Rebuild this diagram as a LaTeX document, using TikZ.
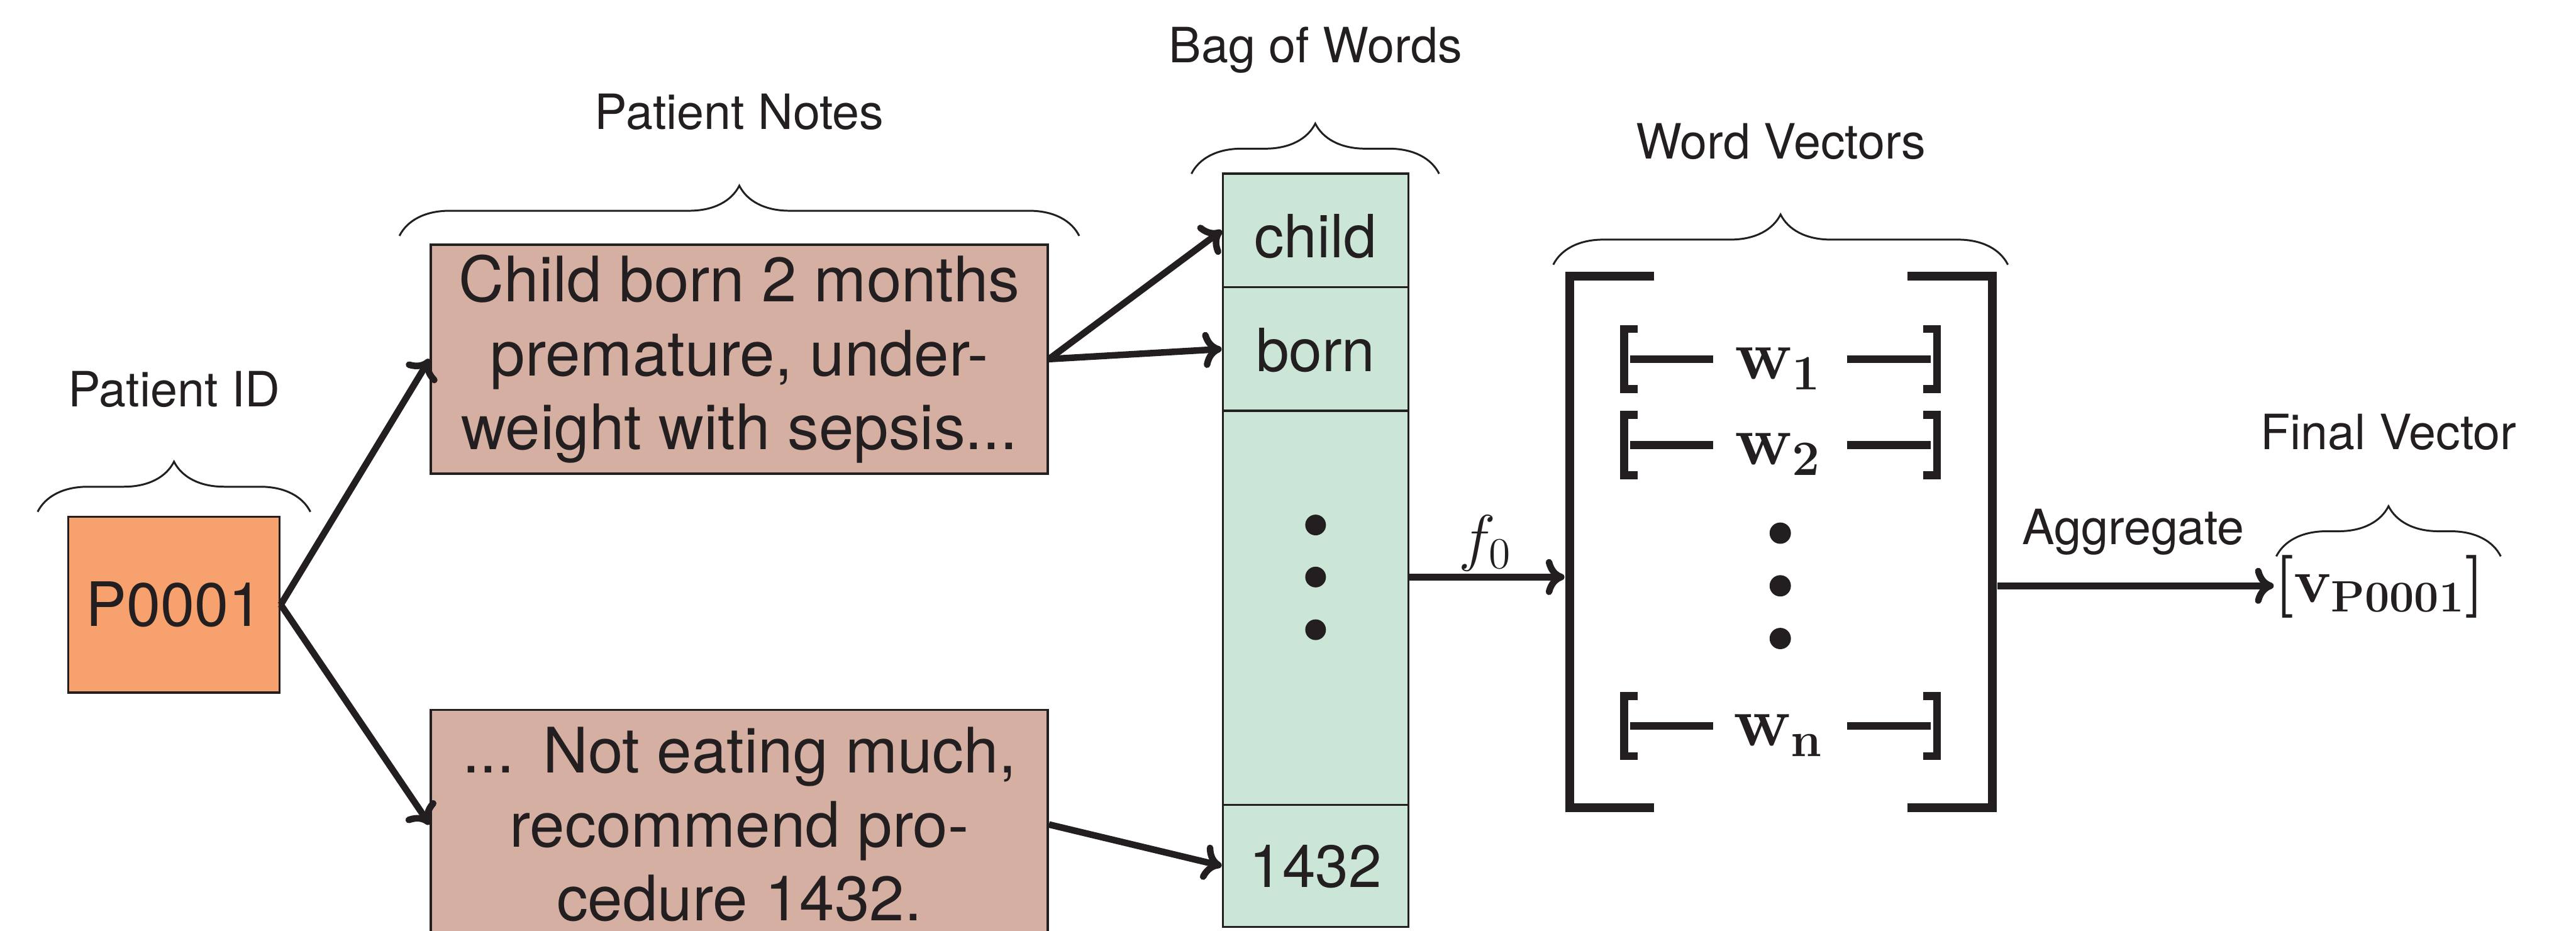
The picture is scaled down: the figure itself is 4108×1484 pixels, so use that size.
\documentclass[tikz,border=0pt]{standalone}
\usepackage{fix-cm}
\usepackage[no-math]{fontspec}
\setmainfont{TeX Gyre Heros}
\usetikzlibrary{arrows.meta,decorations.pathreplacing,calc}
\definecolor{ink}{HTML}{231F20}
\definecolor{idfill}{HTML}{F6A16E}
\definecolor{notefill}{HTML}{D4AFA2}
\definecolor{bagfill}{HTML}{CBE6D6}
\begin{document}
\begin{tikzpicture}[x=0.2pt,y=-0.2pt,
  box/.style={draw=ink, line width=0.7pt, inner sep=0pt, text=ink},
  idbox/.style={box, fill=idfill, minimum width=67.4pt, minimum height=56pt, font=\fontsize{19.5}{23}\selectfont},
  notebox/.style={box, fill=notefill, minimum width=196.8pt, minimum height=73pt, align=center, font=\fontsize{20}{23.6}\selectfont},
  cellbox/.style={box, fill=bagfill, minimum width=59.2pt},
  celltext/.style={text=ink, inner sep=0pt, anchor=base, font=\fontsize{19}{23}\selectfont},
  lab/.style={text=ink, inner sep=0pt, anchor=base, font=\fontsize{15.5}{18}\selectfont},
  brc/.style={draw=ink, line width=0.6pt, decorate, decoration={brace, amplitude=16pt}},
  arr/.style={draw=ink, line width=2.1pt, -{Computer Modern Rightarrow[length=6pt,width=11.5pt]}},
  dotmark/.style={circle, fill=ink, inner sep=0pt, minimum size=6.6pt},
  bigbr/.style={draw=ink, line width=2.8pt},
  smallbr/.style={draw=ink, line width=2.5pt},
  mathtext/.style={text=ink, inner sep=0pt, anchor=base}]
\useasboundingbox (0,0) rectangle (4108,1484);

% Patient ID
\node[idbox] (pid) at (277.5,964) {P0001};
\node[lab] (lid) at (278,648) {Patient ID};
\draw[brc] (60,816) -- (495,816);

% Patient notes
\node[notebox] (note1) at (1179,572.5) {Child born 2 months\\premature, under-\\weight with sepsis...};
\node[notebox] (note2) at (1179,1314.5) {...\hspace{0.45em}Not eating much,\\recommend pro-\\cedure 1432.};
\node[lab] (lnotes) at (1179,206) {Patient Notes};
\draw[brc] (637,376) -- (1721,376);

% Bag of words
\node[cellbox, minimum height=36.2pt] (child) at (2098,367.5) {};
\node[cellbox, minimum height=39.4pt] (born) at (2098,556.5) {};
\node[cellbox, minimum height=125.6pt] (dotscell) at (2098,969) {};
\node[cellbox, minimum height=39pt] (c1432) at (2098,1380.5) {};
\node[celltext] (tchild) at (2098,411) {child};
\node[celltext] (tborn) at (2098,592) {born};
\node[celltext] (t1432) at (2098,1415) {1432};
\node[dotmark] (bd1) at (2098,837) {};
\node[dotmark] (bd2) at (2098,920) {};
\node[dotmark] (bd3) at (2098,1004) {};
\node[lab] (lbag) at (2098,100) {Bag of Words};
\draw[brc] (1900,277) -- (2295,277);

% Word vectors
\node[minimum width=137.6pt, minimum height=172.4pt, inner sep=0pt] (wv) at (2840,864) {};
\draw[bigbr] (2638,440) -- (2503,440) -- (2503,1288) -- (2638,1288);
\draw[bigbr] (3042,440) -- (3177,440) -- (3177,1288) -- (3042,1288);
\foreach \yc in {572.5,709.5,1157.5}{
  \draw[smallbr] (2612,\yc-48) -- (2590,\yc-48) -- (2590,\yc+48) -- (2612,\yc+48);
  \draw[smallbr] (3067,\yc-48) -- (3089,\yc-48) -- (3089,\yc+48) -- (3067,\yc+48);
  \draw[smallbr] (2600,\yc) -- (2732,\yc);
  \draw[smallbr] (2946,\yc) -- (3079,\yc);
}
\node[mathtext, font=\fontsize{22.5}{26}\selectfont] (w1) at (2836,604) {$\mathbf{w_1}$};
\node[mathtext, font=\fontsize{22.5}{26}\selectfont] (w2) at (2836,741) {$\mathbf{w_2}$};
\node[mathtext, font=\fontsize{22.5}{26}\selectfont] (wn) at (2836,1189) {$\mathbf{w_n}$};
\node[dotmark, minimum size=6.8pt] (md1) at (2839,850) {};
\node[dotmark, minimum size=6.8pt] (md2) at (2839,934) {};
\node[dotmark, minimum size=6.8pt] (md3) at (2839,1018) {};
\node[lab] (lwv) at (2840,253) {Word Vectors};
\draw[brc] (2477,422) -- (3202,422);

% Final vector
\node[mathtext, anchor=base west, font=\fontsize{20}{24}\selectfont\boldmath] (fv) at (3626,960) {$[\mathbf{v_{P0001}}]$};
\node[lab] (lfv) at (3809,717) {Final Vector};
\draw[brc] (3630,887) -- (3988,887);

% connectors
\draw[arr] (pid.east) -- (note1.west);
\draw[arr] (pid.east) -- (note2.west);
\draw[arr] (note1.east) -- (child.west);
\draw[arr] (note1.east) -- (born.west);
\draw[arr] (note2.east) -- (c1432.west);
\draw[arr] (bd2 -| dotscell.east) -- (bd2 -| wv.west);
\node[mathtext, font=\fontsize{20}{24}\selectfont] (f0) at (2369,891) {$f_0$};
\draw[arr] (md2 -| wv.east) -- (md2 -| fv.west);
\node[lab] (lagg) at (3402,868) {Aggregate};
\end{tikzpicture}
\end{document}
